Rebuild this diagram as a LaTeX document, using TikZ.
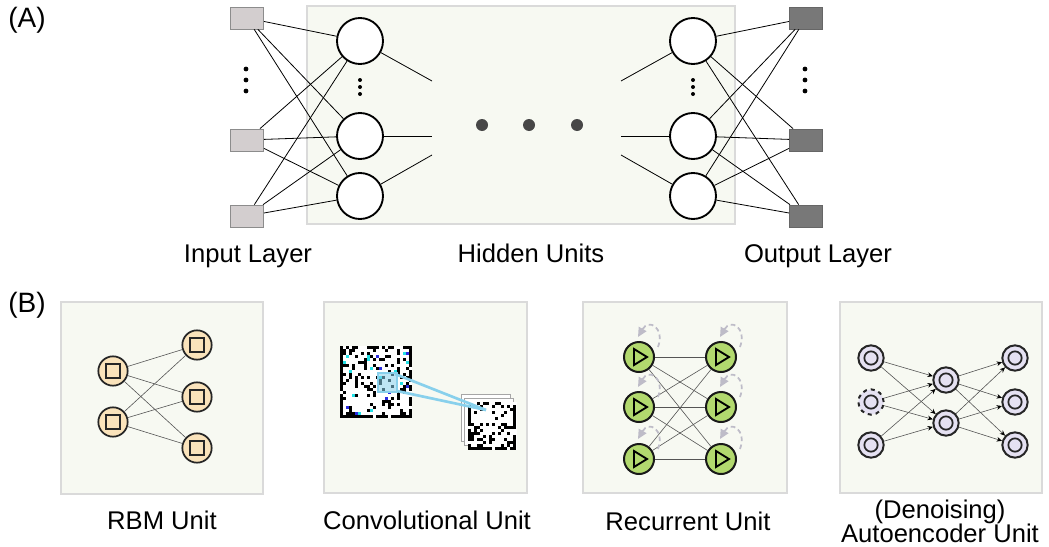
\documentclass[tikz,border=0pt]{standalone}
\usepackage{fontspec}
\setmainfont{Liberation Sans}
\usetikzlibrary{arrows.meta}
\definecolor{panelfill}{HTML}{F7F9F2}
\definecolor{panelline}{HTML}{DADADA}
\definecolor{inpfill}{HTML}{D3CECF}
\definecolor{outfill}{HTML}{787878}
\definecolor{rbmfill}{HTML}{FAE3BB}
\definecolor{recfill}{HTML}{B2D96E}
\definecolor{aefill}{HTML}{E5E1F2}
\definecolor{edgegray}{HTML}{555555}
\definecolor{loopgray}{HTML}{BEBCC8}
\definecolor{convblue}{HTML}{88D0EC}
\definecolor{pixblue}{HTML}{2A2AE0}
\definecolor{pixcyan}{HTML}{22E0E6}
\begin{document}
\begin{tikzpicture}[x=0.75pt,y=-0.75pt,
  lbl/.style={font=\fontsize{19.2}{23}\selectfont, inner sep=0pt, anchor=base},
  plbl/.style={font=\fontsize{21}{25}\selectfont, inner sep=0pt, anchor=base west},
  panel/.style={fill=panelfill, draw=panelline, line width=1.3pt},
  insq/.style={rectangle, minimum width=25pt, minimum height=16.5pt, fill=inpfill, draw=black!45, line width=0.5pt, inner sep=0pt},
  outsq/.style={rectangle, minimum width=25pt, minimum height=16.5pt, fill=outfill, draw=black!60, line width=0.5pt, inner sep=0pt},
  hid/.style={circle, minimum size=34.5pt, fill=white, draw=black, line width=1.4pt, inner sep=0pt},
  net/.style={draw=black, line width=0.6pt},
  rbm/.style={circle, minimum size=22pt, fill=rbmfill, draw=black!85, line width=1.3pt, inner sep=0pt},
  rbmsq/.style={rectangle, minimum size=10.5pt, draw=black!85, line width=1.5pt, inner sep=0pt},
  rec/.style={circle, minimum size=22.5pt, fill=recfill, draw=black!90, line width=1.5pt, inner sep=0pt},
  ae/.style={circle, minimum size=19pt, fill=aefill, draw=black!85, line width=1.5pt, inner sep=0pt},
  aein/.style={circle, minimum size=10pt, draw=black!85, line width=1.3pt, inner sep=0pt},
  thin/.style={draw=edgegray, line width=0.45pt},
  aearrow/.style={draw=edgegray, line width=0.45pt, -{Stealth[length=4pt,width=3.5pt,color=black]}},
  selfloop/.style={draw=loopgray, line width=1.3pt, dash pattern=on 3.5pt off 2.5pt, -{Triangle[length=7pt,width=6.5pt,fill=loopgray,color=loopgray]}}
]
\useasboundingbox (0,0) rectangle (1049,546);

% ---------------- Panel A ----------------
\node[plbl] (labA) at (8,27) {(A)};
\fill[panelfill] (307,6) rectangle (735,224);
\draw[panelline, line width=1.3pt] (307,6) rectangle (735,224);

\node[insq] (i1) at (247,18) {};
\node[insq] (i2) at (247,140) {};
\node[insq] (i3) at (247,216) {};
\node[outsq] (o1) at (806,18) {};
\node[outsq] (o2) at (806,140) {};
\node[outsq] (o3) at (806,216) {};

\node[hid] (h1) at (360,41) {};
\node[hid] (h2) at (360,136) {};
\node[hid] (h3) at (360,196) {};
\node[hid] (g1) at (693,41) {};
\node[hid] (g2) at (693,136) {};
\node[hid] (g3) at (693,196) {};

\foreach \a in {i1,i2,i3}{
  \foreach \b in {h1,h2,h3}{
    \draw[net] (\a) -- (\b);
  }
}
\foreach \a in {g1,g2,g3}{
  \foreach \b in {o1,o2,o3}{
    \draw[net] (\a) -- (\b);
  }
}

\coordinate (e1) at (432,81);
\coordinate (e2) at (432,136);
\coordinate (e3) at (432,155);
\coordinate (f1) at (621,81);
\coordinate (f2) at (621,136);
\coordinate (f3) at (621,155);
\draw[net] (h1) -- (e1);
\draw[net] (h2) -- (e2);
\draw[net] (h3) -- (e3);
\draw[net] (g1) -- (f1);
\draw[net] (g2) -- (f2);
\draw[net] (g3) -- (f3);

\foreach \x in {482,529,577}{ \fill[black!72] (\x,125) circle (6); }
\foreach \y in {69,80,91}{
  \fill (246,\y) circle (2.4);
  \fill (805,\y) circle (2.4);
}
\foreach \y in {80,87,94}{
  \fill (360,\y) circle (2);
  \fill (693,\y) circle (2);
}

\node[lbl] (tin) at (248,262) {Input Layer};
\node[lbl] (thid) at (531,262) {Hidden Units};
\node[lbl] (tout) at (818,262) {Output Layer};

% ---------------- Panel B ----------------
\node[plbl] (labB) at (8,312) {(B)};
\draw[panel] (61,302) rectangle (263,494);
\draw[panel] (324,302) rectangle (527,493);
\draw[panel] (583,302) rectangle (787,493);
\draw[panel] (840,302) rectangle (1042,493);

% RBM
\node[rbm] (ra) at (113,371) {};
\node[rbm] (rb) at (113,422) {};
\node[rbm] (rc) at (197,345) {};
\node[rbm] (rd) at (197,397) {};
\node[rbm] (re) at (197,448) {};
\foreach \a in {ra,rb}{
  \foreach \b in {rc,rd,re}{
    \draw[thin] (\a) -- (\b);
  }
}
\foreach \n in {ra,rb,rc,rd,re}{ \node[rbmsq] at (\n) {}; }

% Convolutional
\fill[white] (340,346) rectangle (412,418);
\pgfmathsetseed{4242}
\foreach \i in {0,...,23}{
  \foreach \j in {0,...,23}{
    \pgfmathsetmacro\rr{rnd}
    \pgfmathsetmacro\edge{(\i==0 || \i==23 || \j==0 || \j==23) ? 1 : 0}
    \ifdim\edge pt>0.5pt
      \ifdim\rr pt<0.82pt \fill[black] ({340+3*\i},{346+3*\j}) rectangle ++(3,3); \fi
    \else
      \ifdim\rr pt<0.2pt \fill[black] ({340+3*\i},{346+3*\j}) rectangle ++(3,3); \fi
      \ifdim\rr pt>0.965pt \fill[pixcyan] ({340+3*\i},{346+3*\j}) rectangle ++(3,3); \fi
      \ifdim\rr pt>0.94pt \ifdim\rr pt<0.965pt \fill[pixblue] ({340+3*\i},{346+3*\j}) rectangle ++(3,3); \fi \fi
    \fi
  }
}
\fill[convblue, opacity=0.55] (378,373) rectangle (397,392);
\draw[convblue, line width=1.3pt] (378,373) rectangle (397,392);

\draw[black!35, fill=white, line width=0.6pt] (461,394) rectangle (510,441);
\draw[black!35, fill=white, line width=0.6pt] (464,398) rectangle (513,445);
\fill[white] (468,402) rectangle (517,450);
\pgfmathsetseed{777}
\foreach \i in {0,...,15}{
  \foreach \j in {0,...,15}{
    \pgfmathsetmacro\rr{rnd}
    \pgfmathsetmacro\edge{(\i==0 || \i==15 || \j==15) ? 1 : 0}
    \ifdim\edge pt>0.5pt
      \ifdim\rr pt<0.7pt \fill[black] ({468+3*\i},{402+3*\j}) rectangle ++(3,3); \fi
    \else
      \ifdim\rr pt<0.27pt \fill[black] ({468+3*\i},{402+3*\j}) rectangle ++(3,3); \fi
    \fi
  }
}
\coordinate (cv1) at (395,374);
\coordinate (cv2) at (397,391);
\coordinate (cvt) at (486,410);
\draw[convblue, line width=2pt] (cv1) -- (cvt);
\draw[convblue, line width=2pt] (cv2) -- (cvt);

% Recurrent
\node[rec] (q1) at (639,357) {};
\node[rec] (q2) at (639,407) {};
\node[rec] (q3) at (639,459) {};
\node[rec] (p1) at (721,357) {};
\node[rec] (p2) at (721,407) {};
\node[rec] (p3) at (721,459) {};
\foreach \a in {q1,q2,q3}{
  \foreach \b in {p1,p2,p3}{
    \draw[thin] (\a) -- (\b);
  }
}
\foreach \x/\y in {639/357,639/407,639/459,721/357,721/407,721/459}{
  \draw[black, line width=1.4pt, line join=miter] (\x-5,\y-8) -- (\x+8,\y) -- (\x-5,\y+8) -- cycle;
  \draw[selfloop] (\x+19,\y-10) .. controls (\x+26,\y-29) and (\x+10,\y-39) .. (\x-1,\y-20);
}

% Autoencoder
\node[ae] (a1) at (871,358) {};
\node[ae, dashed] (a2) at (871,402) {};
\node[ae] (a3) at (871,445) {};
\node[ae] (m1) at (946,380) {};
\node[ae] (m2) at (946,423) {};
\node[ae] (b1) at (1015,358) {};
\node[ae] (b2) at (1015,402) {};
\node[ae] (b3) at (1015,445) {};
\foreach \a in {a1,a2,a3}{
  \foreach \b in {m1,m2}{
    \draw[aearrow] (\a) -- (\b);
  }
}
\foreach \a in {m1,m2}{
  \foreach \b in {b1,b2,b3}{
    \draw[aearrow] (\a) -- (\b);
  }
}
\foreach \n in {a1,a2,a3,m1,m2,b1,b2,b3}{ \node[aein] at (\n) {}; }

\node[lbl] (t1) at (162,529) {RBM Unit};
\node[lbl] (t2) at (427,529) {Convolutional Unit};
\node[lbl] (t3) at (688,530) {Recurrent Unit};
\node[lbl] (t4) at (940,518) {(Denoising)};
\node[lbl] (t5) at (940,542) {Autoencoder Unit};
\end{tikzpicture}
\end{document}
